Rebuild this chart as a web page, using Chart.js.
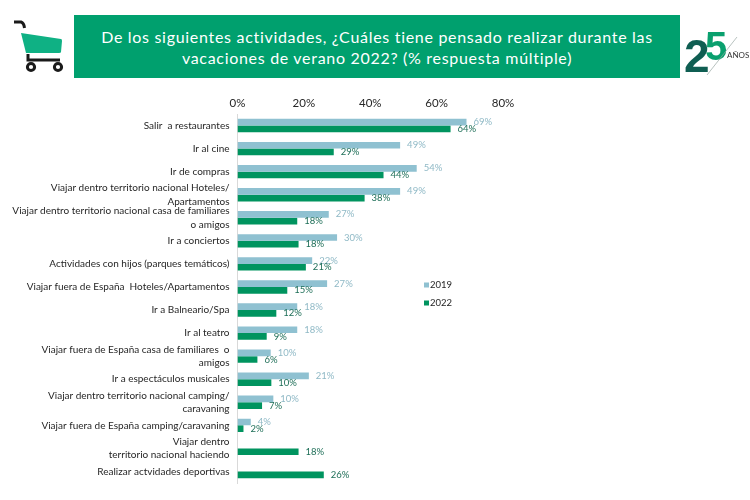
<!DOCTYPE html>
<html>
<head>
<meta charset="utf-8">
<title>Vacaciones de verano 2022</title>
<script src="https://cdn.jsdelivr.net/npm/chart.js@4/dist/chart.umd.min.js"></script>
<style>
  html, body { margin: 0; padding: 0; background: #fff; }
  #wrap { position: relative; width: 750px; height: 500px; overflow: hidden; font-family: Lato, sans-serif; }
  #chart { position: absolute; left: 0; top: 0; }
  #banner {
    position: absolute; left: 74px; top: 15px; width: 606px; height: 63px;
    background: #00a06e; color: #fff; text-align: center;
    font-size: 16px; line-height: 21px; letter-spacing: 0.7px;
    padding-top: 11px; box-sizing: border-box;
  }
  #cart { position: absolute; left: 8px; top: 15px; }
  #logo { position: absolute; left: 680px; top: 25px; }
</style>
</head>
<body>
<div id="wrap">
  <canvas id="chart" width="750" height="500"></canvas>
  <div id="banner">De los siguientes actividades, ¿Cuáles tiene pensado realizar durante las<br>vacaciones de verano 2022? (% respuesta múltiple)</div>
  <svg id="cart" width="60" height="62" viewBox="0 0 60 62">
    <path d="M6 7 H13 Q16 8 16.5 13" fill="none" stroke="#1a1a1a" stroke-width="3"/>
    <path d="M13 18 L53 24 Q54 24 54 26 L53 37 Q53 38 51 38 L18 38 Z" fill="#0fb184"/>
    <path d="M20 39 V45 H52" fill="none" stroke="#1a1a1a" stroke-width="3"/>
    <circle cx="23" cy="52" r="3.6" fill="#fff" stroke="#1a1a1a" stroke-width="3"/>
    <circle cx="50" cy="52" r="3.6" fill="#fff" stroke="#1a1a1a" stroke-width="3"/>
  </svg>
  <svg id="logo" width="70" height="52" viewBox="0 0 70 52">
    <text x="4" y="47" font-family="Liberation Sans" font-weight="bold" font-size="46" fill="#0f5e52">2</text>
    <text x="25" y="35" font-family="Liberation Sans" font-weight="bold" font-size="40" fill="#0aa06e">5</text>
    <line x1="27" y1="50" x2="57" y2="12" stroke="#9aa8a4" stroke-width="0.7"/>
    <text x="47" y="33" font-family="Lato" font-size="8" fill="#333">AÑOS</text>
  </svg>
</div>
<script>
const categories = [
  'Salir  a restaurantes',
  'Ir al cine',
  'Ir de compras',
  ['Viajar dentro territorio nacional Hoteles/', 'Apartamentos'],
  ['Viajar dentro territorio nacional casa de familiares', 'o amigos'],
  'Ir a conciertos',
  'Actividades con hijos (parques temáticos)',
  'Viajar fuera de España  Hoteles/Apartamentos',
  'Ir a Balneario/Spa',
  'Ir al teatro',
  ['Viajar fuera de España casa de familiares  o', 'amigos'],
  'Ir a espectáculos musicales',
  ['Viajar dentro territorio nacional camping/', 'caravaning'],
  'Viajar fuera de España camping/caravaning',
  ['Viajar dentro', 'territorio nacional haciendo'],
  'Realizar actvidades deportivas'
];
const values2019 = [69, 49, 54, 49, 27.5, 30, 22.5, 27, 18, 18, 10, 21.5, 10.8, 4, null, null];
const values2022 = [64.2, 29, 44, 38.3, 18, 18.4, 20.6, 15, 11.7, 8.8, 6, 10.2, 7.4, 1.8, 18.4, 26];
const labels2019 = ['69%', '49%', '54%', '49%', '27%', '30%', '22%', '27%', '18%', '18%', '10%', '21%', '10%', '4%', '', ''];
const labels2022 = ['64%', '29%', '44%', '38%', '18%', '18%', '21%', '15%', '12%', '9%', '6%', '10%', '7%', '2%', '18%', '26%'];
const axisTicks = [0, 20, 40, 60, 80];
const color2019 = '#8fc1d1';
const color2022 = '#00945f';

// draws the value labels next to the bars, and the legend in its free spot
const barLabels = {
  id: 'barLabels',
  afterDatasetsDraw(chart) {
    const ctx = chart.ctx;
    ctx.save();
    ctx.font = '9.5px Lato';
    ctx.textBaseline = 'middle';
    ctx.textAlign = 'left';
    chart.data.datasets.forEach(function (ds, i) {
      chart.getDatasetMeta(i).data.forEach(function (bar, j) {
        if (ds.data[j] === null) return;
        ctx.fillStyle = ds.labelColor;
        ctx.fillText(ds.valueLabels[j], bar.x + 7, bar.y);
      });
    });

    chart.data.datasets.forEach(function (ds, i) {
      const y = 285 + i * 18;
      ctx.fillStyle = ds.backgroundColor;
      ctx.fillRect(424, y - 2.5, 5, 5);
      ctx.fillStyle = '#262626';
      ctx.fillText(ds.label, 430, y);
    });
    ctx.restore();
  }
};

new Chart(document.getElementById('chart'), {
  type: 'bar',
  plugins: [barLabels],
  data: {
    labels: categories,
    datasets: [
      { label: '2019', data: values2019, backgroundColor: color2019, labelColor: '#8fb9c6', valueLabels: labels2019 },
      { label: '2022', data: values2022, backgroundColor: color2022, labelColor: '#1f6f58', valueLabels: labels2022 }
    ]
  },
  options: {
    indexAxis: 'y',
    responsive: false,
    animation: false,
    layout: { padding: { left: 0, right: 247, top: 0, bottom: 17 } },
    datasets: { bar: { categoryPercentage: 0.58, barPercentage: 1 } },
    plugins: { legend: { display: false }, tooltip: { enabled: false } },
    scales: {
      x: {
        position: 'top',
        min: 0,
        max: 80,
        afterBuildTicks(axis) { axis.ticks = axisTicks.map(function (v) { return { value: v }; }); },
        afterFit(axis) { axis.height = 114; },
        grid: { display: false, drawTicks: false },
        border: { display: false },
        ticks: {
          color: '#262626',
          font: { family: 'Lato', size: 11.5 },
          padding: 4,
          maxRotation: 0,
          callback(v) { return v + '%'; }
        }
      },
      y: {
        afterFit(axis) { axis.width = 237.5; },
        grid: { display: false, drawTicks: false },
        border: { display: true, color: '#d9d9d9' },
        ticks: {
          color: '#262626',
          autoSkip: false,
          padding: 8,
          font: { family: 'Lato', size: 10, lineHeight: 1.35 }
        }
      }
    }
  }
});
</script>
</body>
</html>
